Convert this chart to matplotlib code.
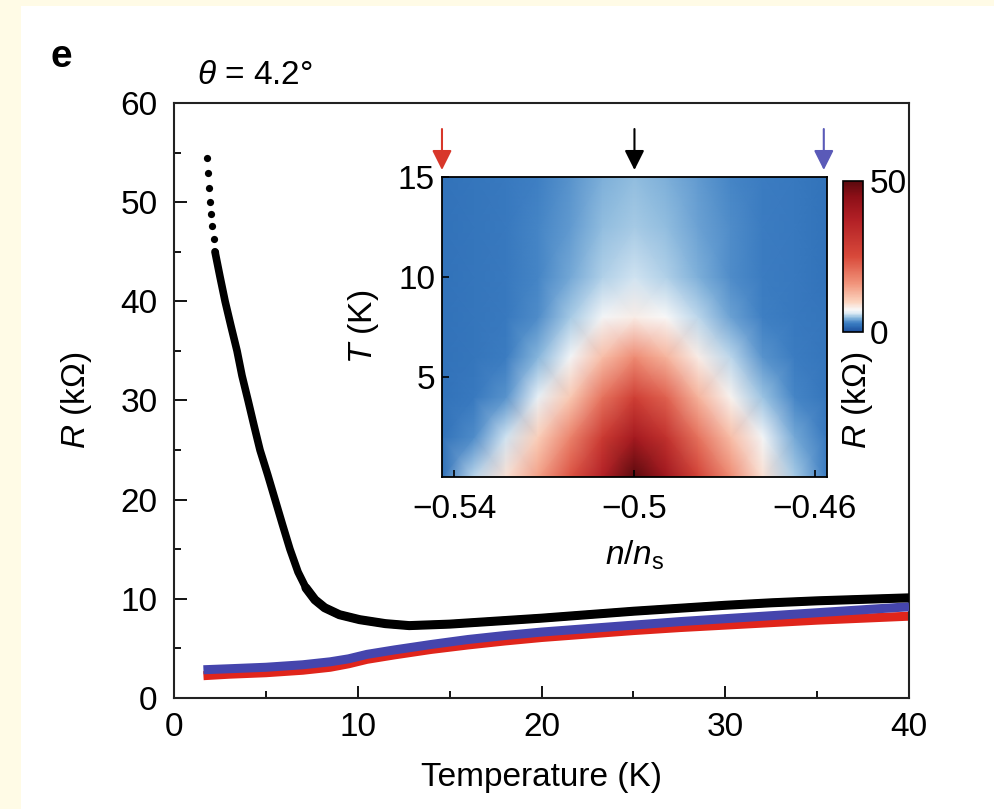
import numpy as np
import matplotlib
matplotlib.use("Agg")
import matplotlib.pyplot as plt
from matplotlib.colors import LinearSegmentedColormap
from matplotlib.patches import Rectangle
from matplotlib.ticker import MultipleLocator

plt.rcParams['font.family'] = ['Liberation Sans', 'DejaVu Sans']
plt.rcParams['mathtext.fontset'] = 'custom'
plt.rcParams['mathtext.it'] = 'Liberation Sans:italic'
plt.rcParams['mathtext.rm'] = 'Liberation Sans'

# ---------------- data ----------------
T_black = [1.8, 1.83, 1.88, 1.94, 2.0, 2.07, 2.15, 2.23, 2.5, 2.78, 3.1, 3.43, 3.7, 4.03,
           4.35, 4.68, 5.1, 5.5, 5.9, 6.31, 6.75, 7.18, 7.67, 8.2, 9.0, 10.1, 11.5, 12.8,
           15.0, 17.5, 20.0, 22.5, 25.0, 27.5, 30.0, 32.5, 35.0, 37.5, 40.0]
R_black = [54.5, 52.9, 51.4, 50.0, 48.8, 47.6, 46.3, 45.0, 42.5, 40.0, 37.5, 35.0, 32.5, 30.0,
           27.5, 25.0, 22.5, 20.0, 17.5, 15.0, 12.7, 11.1, 9.9, 9.1, 8.4, 7.9, 7.5, 7.3,
           7.45, 7.75, 8.05, 8.4, 8.75, 9.05, 9.35, 9.6, 9.8, 9.95, 10.1]

T_col = [1.6, 3, 5, 7, 8.5, 9.5, 10.5, 12, 14, 16, 18, 20, 22.5, 25, 27.5, 30, 32.5, 35, 37.5, 40]
R_blue = [2.85, 2.95, 3.1, 3.35, 3.65, 3.95, 4.4, 4.85, 5.4, 5.9, 6.3, 6.65, 7.0, 7.35, 7.7,
          8.0, 8.3, 8.6, 8.9, 9.2]
R_red = [2.25, 2.4, 2.55, 2.8, 3.1, 3.45, 3.9, 4.35, 4.9, 5.35, 5.75, 6.1, 6.45, 6.8, 7.1,
         7.35, 7.6, 7.85, 8.05, 8.25]

# inset map R(n, T) in kOhm
n_nodes = [-0.5427, -0.5356, -0.5285, -0.5214, -0.5142, -0.5071, -0.5000, -0.4929,
           -0.4858, -0.4786, -0.4715, -0.4644, -0.4573]
T_nodes = [0, 2, 4, 6, 8, 10, 12.5, 15]
R_map = [
    [2.3, 5.5, 9.0, 15, 24, 37, 52, 41, 27, 17, 9.0, 5.2, 2.9],
    [2.2, 3.4, 6.0, 10.5, 18, 29, 40, 32, 20, 12, 7.2, 4.2, 2.7],
    [2.2, 2.6, 3.6, 6.8, 11, 20, 28, 22, 13, 7.8, 5.0, 3.2, 2.5],
    [2.2, 2.4, 2.9, 4.6, 7.2, 12, 17, 13, 8.2, 5.5, 3.6, 2.8, 2.4],
    [2.2, 2.4, 2.7, 3.5, 5.2, 7.2, 8.2, 7.4, 5.6, 4.0, 3.1, 2.7, 2.4],
    [2.2, 2.4, 2.7, 3.2, 4.2, 5.4, 6.0, 5.4, 4.4, 3.5, 2.9, 2.6, 2.3],
    [2.2, 2.4, 2.7, 3.2, 3.9, 4.7, 5.1, 4.7, 4.1, 3.4, 2.9, 2.6, 2.3],
    [2.2, 2.4, 2.7, 3.1, 3.7, 4.3, 4.7, 4.4, 3.9, 3.3, 2.9, 2.6, 2.3],
]
arrow_n = [-0.5427, -0.5000, -0.4580]
arrow_colors = ['#d8372a', '#000000', '#5a5ab8']

x_ticks = [0, 10, 20, 30, 40]
y_ticks = [0, 10, 20, 30, 40, 50, 60]
in_x_ticks = [-0.54, -0.5, -0.46]
in_x_labels = ['\u22120.54', '\u22120.5', '\u22120.46']
in_y_ticks = [5, 10, 15]

# ---------------- figure ----------------
fig = plt.figure(figsize=(9.95, 8.09), dpi=100)
fig.patch.set_facecolor('#fffbe6')
fig.patches.append(Rectangle((21 / 995, 0), 1, 1 - 6 / 809, transform=fig.transFigure,
                             facecolor='white', edgecolor='none', zorder=-10))

FS = 24
ax = fig.add_axes([0.1749, 0.1372, 0.7387, 0.7355])
ax.plot(T_col, R_red, color='#e0251b', lw=6.5, solid_capstyle='butt', zorder=2)
ax.plot(T_col, R_blue, color='#4545ad', lw=6.5, solid_capstyle='butt', zorder=3)
Tb = np.array(T_black)
Rb = np.array(R_black)
top = Rb >= 45
ax.plot(Tb[top], Rb[top], color='black', lw=0, marker='o', ms=5.2, mew=0, zorder=4)
ax.plot(Tb[7:], Rb[7:], color='black', lw=5.5, solid_capstyle='round',
        solid_joinstyle='round', zorder=4)
ax.plot(Tb[21:], Rb[21:], color='black', lw=6.5, solid_capstyle='round',
        solid_joinstyle='round', zorder=4)
ax.set_xlim(0, 40)
ax.set_ylim(0, 60)
ax.set_xticks(x_ticks)
ax.set_yticks(y_ticks)
ax.xaxis.set_minor_locator(MultipleLocator(5))
ax.yaxis.set_minor_locator(MultipleLocator(5))
ax.tick_params(which='major', direction='in', length=9, width=1.3, labelsize=FS)
ax.tick_params(which='minor', direction='in', length=5, width=1.3)
ax.tick_params(axis='x', pad=10)
ax.tick_params(axis='y', pad=12)
for s in ax.spines.values():
    s.set_linewidth(1.5)
    s.set_color('#222222')
ax.set_xlabel('Temperature (K)', fontsize=FS, labelpad=14)
ax.set_ylabel('$R$ (k\u03a9)', fontsize=FS, labelpad=19)

fig.text(61 / 995, 1 - 57 / 809, 'e', fontsize=28, fontweight='bold', ha='center',
         va='center')
fig.text(197 / 995, 1 - 76 / 809, '$\\theta$ = 4.2\u00b0', fontsize=FS, ha='left',
         va='center')

# ---------------- inset ----------------
cmap = LinearSegmentedColormap.from_list('rb', [
    (0.00, '#1d4f9c'), (0.04, '#3070b8'), (0.06, '#3f80c4'), (0.09, '#86b6dc'),
    (0.12, '#d6e7f3'), (0.145, '#f8f8f8'), (0.20, '#fbd3be'), (0.32, '#f1947b'),
    (0.50, '#d8493a'), (0.75, '#b11f25'), (0.90, '#8c0f17'), (1.00, '#5a0a0e')])

axi = fig.add_axes([0.4442, 0.4104, 0.3869, 0.3708])
mesh = axi.pcolormesh(n_nodes, T_nodes, np.array(R_map), shading='gouraud', cmap=cmap,
                      vmin=0, vmax=50, rasterized=True)
axi.set_xlim(n_nodes[0], n_nodes[-1])
axi.set_ylim(0, 15)
axi.set_xticks(in_x_ticks)
axi.set_xticklabels(in_x_labels)
axi.set_yticks(in_y_ticks)
axi.tick_params(direction='in', length=5, width=1.2, labelsize=FS)
axi.tick_params(axis='x', pad=12)
axi.tick_params(axis='y', pad=5)
for s in axi.spines.values():
    s.set_linewidth(1.3)
axi.set_xlabel('$n/n_\\mathrm{s}$', fontsize=FS, labelpad=10)
axi.set_ylabel('$T$ (K)', fontsize=FS, labelpad=12)
for xn, c in zip(arrow_n, arrow_colors):
    axi.annotate('', xy=(xn, 15.35), xytext=(xn, 17.4), annotation_clip=False,
                 arrowprops=dict(arrowstyle='-|>', color=c, lw=1.5, mutation_scale=30,
                                 shrinkA=0, shrinkB=0))

cax = fig.add_axes([0.8472, 0.5896, 0.0201, 0.1867])
cb = fig.colorbar(mesh, cax=cax, ticks=[0, 50])
cb.outline.set_linewidth(1.2)
cax.tick_params(length=0, labelsize=FS, pad=5)
fig.text(858 / 995, 1 - 400 / 809, '$R$ (k\u03a9)', rotation=90, fontsize=FS,
         ha='center', va='center')

fig.savefig('out.png', dpi=100, facecolor=fig.get_facecolor())
